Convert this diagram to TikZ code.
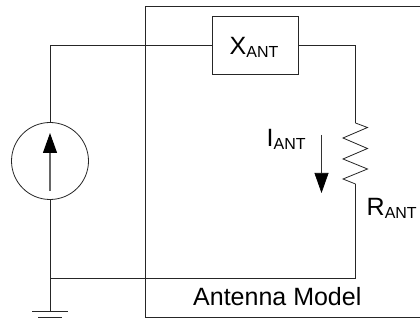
\documentclass[tikz,border=0pt]{standalone}
\usepackage{fontspec}
\setmainfont{Liberation Sans}
\usetikzlibrary{arrows.meta, positioning}
\newcommand{\antsub}{\raisebox{-2.5pt}{\fontsize{16}{16}\selectfont ANT}}
\tikzstyle{wire} = [draw=black!85, line width=0.8pt]
\tikzstyle{reactance} = [rectangle, draw=black!85, fill=white, line width=0.8pt, minimum width=85.5pt, minimum height=58pt, inner sep=0pt]
\tikzstyle{source} = [circle, draw=black!85, fill=white, line width=0.8pt, minimum size=77pt, inner sep=0pt]
\tikzstyle{current} = [draw=black!80, line width=0.7pt, -{Triangle[length=20pt, width=14pt, color=black, fill=black]}]
\tikzstyle{label} = [inner sep=0pt, anchor=base west, font=\fontsize{25}{25}\selectfont]

\begin{document}
\begin{tikzpicture}[x=1pt, y=-1pt]

    \useasboundingbox (0, 0) rectangle (420, 320);

    % Antenna model outline
    \draw [wire] (420, 6) -- (145.5, 6) -- (145.5, 317) -- (420, 317);

    \node (xant) [reactance] at (255.25, 45) {};
    \node (src) [source] at (50, 161) {};
    \node (xant_text) [label] at (229.5, 55) {X\antsub};

    \coordinate (topleft) at (50, 45);
    \coordinate (topright) at (355.5, 45);
    \coordinate (res_top) at (355.5, 123);
    \coordinate (res_bot) at (355.5, 184);
    \coordinate (botright) at (355.5, 278);
    \coordinate (botleft) at (50, 278);
    \coordinate (gnd) at (50, 311);

    \draw [wire] (src.north) -- (topleft) -- (xant.west);
    \draw [wire] (xant.east) -- (topright) -- (res_top);
    \draw [wire] (res_top) -- ++(12, 4.5) -- ++(-24.5, 10.5) -- ++(24.5, 10.5) -- ++(-24.5, 10.5)
        -- ++(24.5, 10) -- ++(-24.5, 10) -- (res_bot);
    \draw [wire] (res_bot) -- (botright) -- (botleft);
    \draw [wire] (src.south) -- (gnd);

    % Ground
    \coordinate (gnd1a) at (32, 311);
    \coordinate (gnd1b) at (68, 311);
    \coordinate (gnd2a) at (38, 317);
    \coordinate (gnd2b) at (62, 317);
    \draw [wire] (gnd1a) -- (gnd1b);
    \draw [wire] (gnd2a) -- (gnd2b);

    % Current arrows
    \coordinate (src_tail) at (50, 191);
    \coordinate (src_head) at (50, 133);
    \coordinate (iant_tail) at (321.5, 135);
    \coordinate (iant_head) at (321.5, 193);
    \draw [current, line width=1.2pt, draw=black!60] (src_tail) -- (src_head);
    \draw [current] (iant_tail) -- (iant_head);

    \node (iant) [label] at (266.5, 147) {I\antsub};
    \node (rant) [label] at (366.5, 216) {R\antsub};
    \node (model) [label] at (193, 305) {Antenna Model};

\end{tikzpicture}
\end{document}
